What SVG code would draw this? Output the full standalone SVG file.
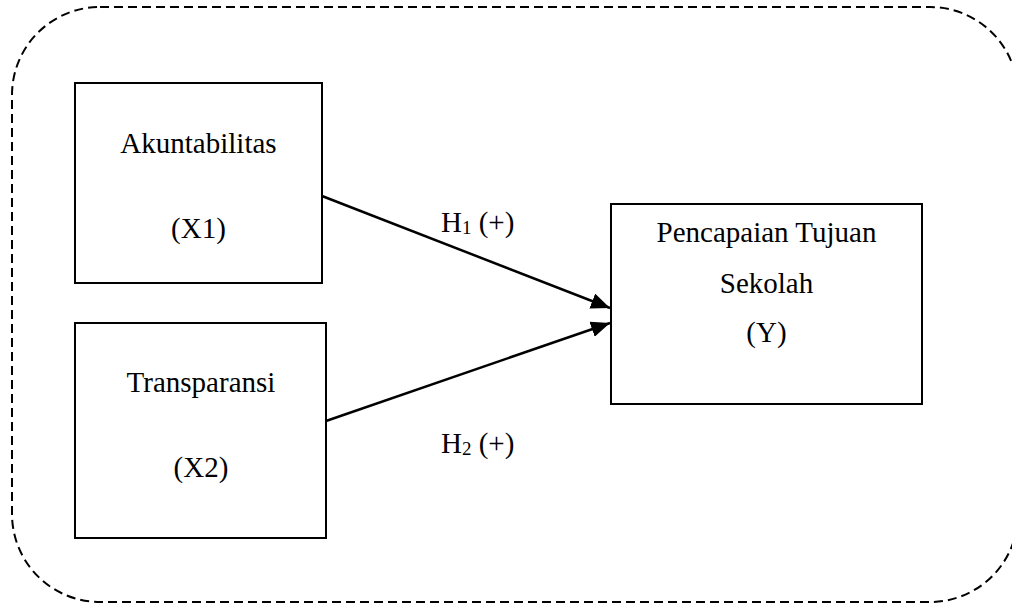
<svg xmlns="http://www.w3.org/2000/svg" width="1012" height="605" viewBox="0 0 1012 605">
<style>
.box{fill:#fff;stroke:#000;stroke-width:2}
.t{font-family:"Liberation Serif","Times New Roman",serif;font-size:29px;fill:#000}
.c{text-anchor:middle}
.edge{stroke:#000;stroke-width:2.5;fill:none}
.frame{fill:none;stroke:#000;stroke-width:2;stroke-dasharray:9 5}
</style>
<defs>
<marker id="ah" markerUnits="userSpaceOnUse" markerWidth="20" markerHeight="16" refX="19" refY="8" orient="auto">
<path d="M0,0 L19,8 L0,16 z" fill="#000"/>
</marker>
</defs>
<rect id="frame" class="frame" x="12" y="7" width="1006" height="595" rx="88" ry="88"/>
<g id="connectors">
<line class="edge" x1="322" y1="196" x2="610" y2="308" marker-end="url(#ah)"/>
<line class="edge" x1="326" y1="421" x2="610" y2="323" marker-end="url(#ah)"/>
<text class="t" x="441" y="232">H<tspan font-size="19" dy="2">1</tspan><tspan dy="-2"> (+)</tspan></text>
<text class="t" x="441" y="453">H<tspan font-size="19" dy="2">2</tspan><tspan dy="-2"> (+)</tspan></text>
</g>
<g id="node-x1">
<rect class="box" x="75" y="83" width="247" height="200"/>
<text class="t c" x="198.5" y="153">Akuntabilitas</text>
<text class="t c" x="198.5" y="238">(X1)</text>
</g>
<g id="node-x2">
<rect class="box" x="75" y="323" width="251" height="215"/>
<text class="t c" x="201" y="392">Transparansi</text>
<text class="t c" x="201" y="477">(X2)</text>
</g>
<g id="node-y">
<rect class="box" x="611" y="204" width="311" height="200"/>
<text class="t c" x="766.5" y="242">Pencapaian Tujuan</text>
<text class="t c" x="766.5" y="293">Sekolah</text>
<text class="t c" x="766.5" y="342">(Y)</text>
</g>
</svg>
